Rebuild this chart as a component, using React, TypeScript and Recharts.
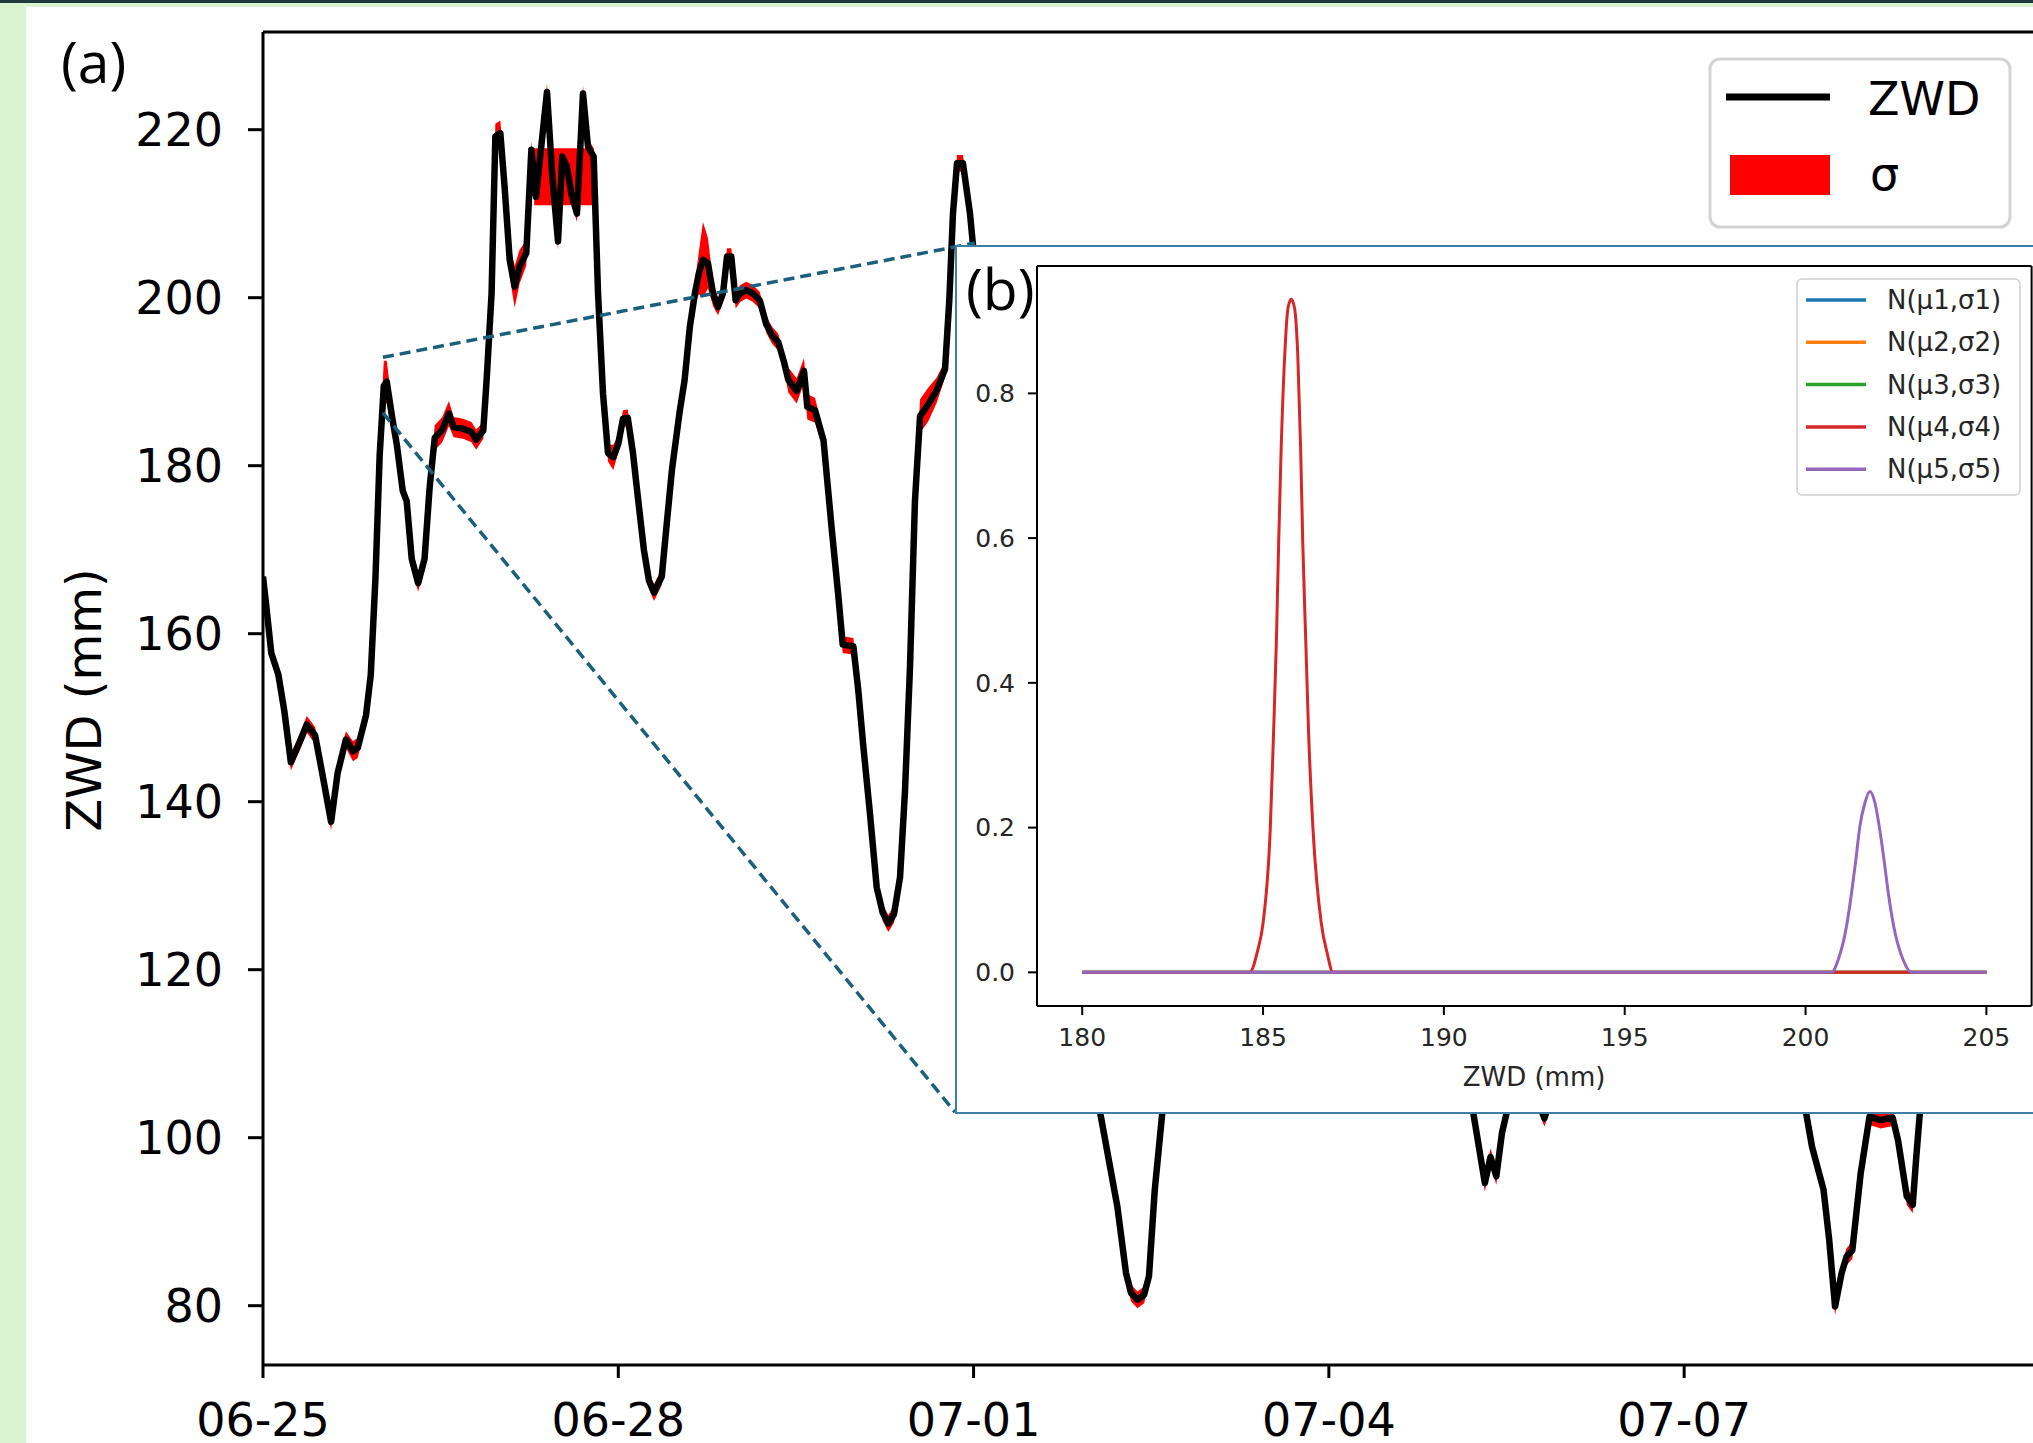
import React from 'react';
import {
  ComposedChart,
  LineChart,
  Line,
  Area,
  XAxis,
  YAxis,
  ReferenceLine,
} from 'recharts';

const FONT = "'DejaVu Sans', sans-serif";
const LABEL_FONT = "'Open Sans', 'Noto Sans', sans-serif";

// (a) ZWD series, x = days since 06-25 00:00
const zwdDays = [
  0.0, 0.03, 0.07, 0.13, 0.18, 0.235, 0.31, 0.37, 0.44, 0.5, 0.575, 0.63, 0.7, 0.76, 0.8, 0.87, 0.91, 0.95,
  0.985, 1.02, 1.045, 1.09, 1.13, 1.18, 1.213, 1.256, 1.31, 1.364, 1.407, 1.45, 1.514, 1.57, 1.61, 1.69,
  1.76, 1.8, 1.86, 1.89, 1.93, 1.962, 2.004, 2.04, 2.083, 2.125, 2.167, 2.223, 2.266, 2.305, 2.398, 2.443,
  2.491, 2.527, 2.567, 2.603, 2.651, 2.702, 2.744, 2.792, 2.829, 2.871, 2.913, 2.958, 3.0, 3.04, 3.08,
  3.124, 3.165, 3.216, 3.259, 3.302, 3.367, 3.41, 3.453, 3.518, 3.56, 3.604, 3.647, 3.68, 3.715, 3.757,
  3.8, 3.842, 3.884, 3.918, 3.954, 3.991, 4.03, 4.081, 4.137, 4.194, 4.25, 4.3, 4.351, 4.4, 4.436, 4.506,
  4.568, 4.596, 4.661, 4.733, 4.802, 4.858, 4.895, 4.985, 5.027, 5.069, 5.125, 5.182, 5.232, 5.28, 5.328,
  5.379, 5.421, 5.463, 5.505, 5.548, 5.618, 5.689, 5.759, 5.795, 5.826, 5.86, 5.91, 5.97, 6.01, 6.1, 6.3,
  6.5, 6.7, 6.9, 7.0, 7.07, 7.214, 7.287, 7.33, 7.384, 7.44, 7.481, 7.53, 7.593, 7.65, 7.8, 8.0, 8.3, 8.6,
  8.9, 9.2, 9.5, 9.8, 10.0, 10.15, 10.22, 10.317, 10.365, 10.414, 10.462, 10.5, 10.56, 10.66, 10.75, 10.82,
  10.9, 11.1, 11.4, 11.8, 12.2, 12.6, 12.9, 13.03, 13.08, 13.177, 13.225, 13.274, 13.33, 13.37, 13.42,
  13.49, 13.565, 13.66, 13.76, 13.806, 13.88, 13.93, 13.96, 13.99, 14.05, 14.3, 14.6, 15.0, 15.4, 15.6,
];
const zwdValues = [
  166.8, 163.0, 157.7, 155.1, 150.8, 144.7, 147.1, 149.2, 147.9, 143.4, 137.6, 143.4, 147.4, 146.0, 146.4,
  150.3, 155.1, 166.8, 181.2, 189.5, 190.0, 185.8, 182.5, 177.0, 175.8, 168.9, 166.0, 168.9, 177.4, 183.3,
  184.3, 186.2, 184.6, 184.4, 184.0, 183.1, 184.2, 190.6, 200.5, 219.2, 219.6, 213.2, 204.5, 201.3, 203.7,
  205.3, 217.6, 212.0, 224.5, 214.4, 206.7, 216.8, 215.6, 212.4, 210.0, 224.3, 218.0, 216.8, 200.5, 188.6,
  181.5, 181.0, 182.6, 185.6, 185.7, 181.5, 176.3, 170.0, 166.3, 164.9, 166.8, 173.2, 179.5, 186.4, 190.2,
  196.5, 200.5, 202.9, 204.5, 204.1, 200.5, 198.9, 200.5, 204.9, 204.9, 199.7, 200.5, 200.9, 200.5, 199.7,
  196.8, 195.5, 194.7, 192.3, 190.2, 188.9, 191.3, 187.0, 186.6, 183.0, 172.5, 164.5, 158.7, 158.5, 153.2,
  146.6, 138.6, 129.8, 126.8, 125.5, 126.6, 131.0, 141.3, 156.0, 175.8, 185.9, 187.3, 189.0, 191.5, 199.7,
  210.0, 216.0, 216.0, 210.0, 204.0, 196.0, 183.0, 172.0, 160.0, 135.0, 115.0, 102.9, 91.8, 83.9, 81.5,
  80.7, 81.3, 83.5, 93.8, 102.9, 118.0, 140.0, 160.0, 175.0, 170.0, 165.0, 158.0, 150.0, 135.0, 120.0,
  108.0, 102.9, 94.6, 97.7, 95.4, 100.6, 102.9, 106.0, 108.0, 105.0, 102.3, 106.0, 120.0, 140.0, 150.0,
  145.0, 130.0, 112.0, 102.9, 98.9, 93.8, 87.8, 79.9, 83.9, 85.8, 86.6, 95.7, 102.5, 102.1, 102.4, 99.7,
  93.0, 92.0, 97.7, 102.9, 112.0, 130.0, 140.0, 135.0, 130.0, 128.0,
];
const zwdSigma = [
  1.0, 1.0, 1.0, 1.0, 1.0, 1.0, 1.0, 1.0, 1.0, 1.0, 1.0, 1.0, 1.0, 1.2, 1.2, 1.0, 1.0, 1.0,
  1.5, 3.0, 2.5, 1.5, 1.0, 1.0, 1.0, 1.0, 1.0, 1.0, 1.0, 1.5, 1.5, 1.5, 1.2, 1.2,
  1.2, 1.2, 1.0, 1.0, 1.0, 1.5, 1.5, 1.5, 2.0, 2.5, 2.0, 1.5, 1.0, 1.0, 1.0, 1.0,
  1.0, 1.0, 1.0, 1.0, 1.0, 1.0, 1.0, 1.0, 1.0, 1.0, 1.0, 1.5, 1.0, 1.0, 1.0,
  1.0, 1.0, 1.0, 1.0, 1.0, 1.0, 1.0, 1.0, 1.0, 1.0, 1.0, 1.5, 2.5, 4.5, 3.0,
  1.5, 1.0, 1.0, 1.0, 1.0, 1.0, 1.0, 1.0, 1.0, 1.0, 1.0, 1.0, 1.0, 1.0, 1.5, 1.5,
  1.5, 1.5, 1.5, 1.0, 1.0, 1.0, 1.0, 1.0, 1.0, 1.0, 1.0, 1.0, 1.0, 1.0, 1.0,
  1.0, 1.0, 1.0, 1.0, 2.0, 2.0, 1.5, 1.0, 1.0, 1.0, 1.0, 1.0, 1.0, 1.0, 1.0, 1.0,
  1.0, 1.0, 1.0, 1.0, 1.0, 1.0, 1.0, 1.0, 1.0, 1.0, 1.0, 1.0, 1.0, 1.0, 1.0, 1.0, 1.0, 1.0,
  1.0, 1.0, 1.0, 1.0, 1.0, 1.0, 1.0, 1.0, 1.0, 1.0, 1.0, 1.0, 1.0, 1.0, 1.0, 1.0,
  1.0, 1.0, 1.0, 1.0, 1.0, 1.0, 1.0, 1.0, 1.0, 1.0, 1.0, 1.0, 1.0, 1.0, 1.0,
  1.0, 1.0, 1.0, 1.0, 1.0, 1.0, 1.0, 1.0, 1.0, 1.0, 1.0, 1.0, 1.0, 1.0, 1.0,
];
// wide sigma plateau on 06-27
const sigmaBlockDays = [2.29, 2.79];
const sigmaBlockRange = [211.0, 217.8];

const xTickDays = [0, 3, 6, 9, 12];
const xTickLabels = ['06-25', '06-28', '07-01', '07-04', '07-07'];
const yTicks = [80, 100, 120, 140, 160, 180, 200, 220];
const mainXDomain = [0, 15.6];
const mainYDomain = [72.94, 231.63];

// zoom connector ends (data coords of panel a)
const zoomFrom = [1.013, 192.9, 186.3];
const zoomTo = [[6.01, 206.5], [5.843, 103.05]];

// (b) mixture components
const componentNames = ['N(μ1,σ1)', 'N(μ2,σ2)', 'N(μ3,σ3)', 'N(μ4,σ4)', 'N(μ5,σ5)'];
const componentColors = ['#1f77b4', '#ff7f0e', '#2ca02c', '#d62728', '#9467bd'];
const n1X = [180, 205];
const n1Y = [0, 0];
const n2X = [180, 205];
const n2Y = [0, 0];
const n3X = [180, 205];
const n3Y = [0, 0];
const n4X = [
  180, 184.63, 184.85, 185.0, 185.2, 185.29, 185.37, 185.43, 185.5, 185.6, 185.69, 185.78, 185.87,
  185.96, 186.04, 186.1, 186.18, 186.26, 186.38, 186.61, 186.78, 186.93, 205,
];
const n4Y = [
  0, 0, 0.03, 0.068, 0.199, 0.33, 0.46, 0.59, 0.722, 0.853, 0.918, 0.93, 0.918, 0.853, 0.722, 0.59,
  0.46, 0.33, 0.199, 0.068, 0.025, 0, 0,
];
const n5X = [
  180, 200.72, 200.9, 201.13, 201.27, 201.39, 201.5, 201.64, 201.78, 201.92, 202.04, 202.17, 202.29,
  202.44, 202.7, 202.93, 205,
];
const n5Y = [
  0, 0, 0.017, 0.063, 0.109, 0.155, 0.201, 0.234, 0.25, 0.234, 0.201, 0.155, 0.109, 0.063, 0.017, 0, 0,
];
const insetXTicks = [180, 185, 190, 195, 200, 205];
const insetYTicks = [0, 0.2, 0.4, 0.6, 0.8];
const insetXDomain = [178.75, 206.25];
const insetYDomain = [-0.0465, 0.976];

const componentX = [n1X, n2X, n3X, n4X, n5X];
const componentY = [n1Y, n2Y, n3Y, n4Y, n5Y];

function Inset() {
  const lines = componentNames.map((name, k) => ({
    name,
    color: componentColors[k],
    points: componentX[k].map((x, i) => ({ x, y: componentY[k][i] })),
  }));
  const tick = { fontSize: 25, fill: '#262626', fontFamily: FONT };
  return (
    <div
      style={{
        position: 'absolute',
        left: 955,
        top: 245,
        width: 1100,
        height: 869,
        boxSizing: 'border-box',
        border: '2px solid #3f7fa6',
        background: '#fff',
      }}
    >
      <LineChart width={1096} height={865} margin={{ top: 19, right: 21.4, bottom: 0, left: 0 }}>
        <XAxis
          dataKey="x"
          type="number"
          domain={insetXDomain}
          ticks={insetXTicks}
          interval={0}
          allowDataOverflow
          height={106}
          tick={tick}
          tickSize={9}
          tickMargin={13}
          axisLine={{ stroke: '#000', strokeWidth: 2 }}
          tickLine={{ stroke: '#000', strokeWidth: 2 }}
        />
        <YAxis
          type="number"
          domain={insetYDomain}
          ticks={insetYTicks}
          interval={0}
          allowDataOverflow
          width={80}
          tick={tick}
          tickSize={9}
          tickMargin={13}
          tickFormatter={(v: number) => v.toFixed(1)}
          axisLine={{ stroke: '#000', strokeWidth: 2 }}
          tickLine={{ stroke: '#000', strokeWidth: 2 }}
        />
        <ReferenceLine y={insetYDomain[1]} stroke="#000" strokeWidth={2} />
        <ReferenceLine x={insetXDomain[1]} stroke="#000" strokeWidth={2} />
        {lines.map((l) => (
          <Line
            key={l.name}
            data={l.points}
            dataKey="y"
            type="monotone"
            stroke={l.color}
            strokeWidth={3}
            dot={false}
            activeDot={false}
            isAnimationActive={false}
          />
        ))}
      </LineChart>
      <svg
        width={1096}
        height={865}
        style={{ position: 'absolute', left: 0, top: 0, pointerEvents: 'none' }}
      >
        <text x={9} y={63} fontFamily={LABEL_FONT} fontSize={57} fill="#000">
          (b)
        </text>
        <text
          x={577}
          y={830}
          textAnchor="middle"
          dominantBaseline="central"
          fontFamily={FONT}
          fontSize={26}
          fill="#262626"
        >
          ZWD (mm)
        </text>
        <rect x={840} y={32} width={223} height={216} rx={5} fill="#fff" stroke="#d0d0d0" strokeWidth={1.5} />
        {lines.map((l, k) => (
          <g key={l.name}>
            <line x1={849} x2={909} y1={53 + k * 42.3} y2={53 + k * 42.3} stroke={l.color} strokeWidth={3.5} />
            <text
              x={930}
              y={53 + k * 42.3}
              dominantBaseline="central"
              fontFamily={FONT}
              fontSize={26}
              fill="#262626"
            >
              {l.name}
            </text>
          </g>
        ))}
      </svg>
    </div>
  );
}

export default function App() {
  const mainData = zwdDays.map((day, i) => ({
    day,
    zwd: zwdValues[i],
    band: [zwdValues[i] - zwdSigma[i], zwdValues[i] + zwdSigma[i]],
  }));
  const blockData = sigmaBlockDays.map((day) => ({ day, block: sigmaBlockRange }));
  const tick = { fontSize: 46, fill: '#000', fontFamily: FONT };

  return (
    <div
      style={{
        position: 'absolute',
        left: 0,
        top: 0,
        width: 2033,
        height: 1443,
        overflow: 'hidden',
        background: '#fff',
      }}
    >
      <div style={{ position: 'absolute', left: 0, top: 0 }}>
        <ComposedChart
          width={2120}
          height={1443}
          data={mainData}
          margin={{ top: 32, right: 9.5, bottom: 0, left: 0 }}
        >
          <XAxis
            dataKey="day"
            type="number"
            domain={mainXDomain}
            ticks={xTickDays}
            interval={0}
            allowDataOverflow
            height={78}
            tick={tick}
            tickSize={13}
            tickMargin={25}
            tickFormatter={(v: number) => xTickLabels[xTickDays.indexOf(v)]}
            axisLine={{ stroke: '#000', strokeWidth: 3 }}
            tickLine={{ stroke: '#000', strokeWidth: 3 }}
          />
          <YAxis
            type="number"
            domain={mainYDomain}
            ticks={yTicks}
            interval={0}
            allowDataOverflow
            width={263}
            tick={tick}
            tickSize={15}
            tickMargin={25}
            axisLine={{ stroke: '#000', strokeWidth: 3 }}
            tickLine={{ stroke: '#000', strokeWidth: 3 }}
          />
          <ReferenceLine y={mainYDomain[1]} stroke="#000" strokeWidth={3} />
          <Area
            dataKey="band"
            type="linear"
            stroke="none"
            fill="#ff0000"
            fillOpacity={1}
            isAnimationActive={false}
            activeDot={false}
          />
          <Area
            data={blockData}
            dataKey="block"
            type="linear"
            stroke="none"
            fill="#ff0000"
            fillOpacity={1}
            isAnimationActive={false}
            activeDot={false}
          />
          <Line
            dataKey="zwd"
            type="linear"
            stroke="#000"
            strokeWidth={6.5}
            strokeLinejoin="round"
            dot={false}
            activeDot={false}
            isAnimationActive={false}
          />
          {zoomTo.map((end, i) => (
            <ReferenceLine
              key={i}
              segment={[
                { x: zoomFrom[0], y: zoomFrom[1 + i] },
                { x: end[0], y: end[1] },
              ]}
              stroke="#1b5f7c"
              strokeWidth={3.5}
              strokeDasharray="11 6"
            />
          ))}
        </ComposedChart>
      </div>

      <svg
        width={2033}
        height={1443}
        style={{ position: 'absolute', left: 0, top: 0, pointerEvents: 'none' }}
      >
        <text x={61} y={83} fontFamily={LABEL_FONT} fontSize={57} fill="#000">
          (a)
        </text>
        <text
          transform="translate(84,700) rotate(-90)"
          textAnchor="middle"
          dominantBaseline="central"
          fontFamily={FONT}
          fontSize={48}
          fill="#000"
        >
          ZWD (mm)
        </text>
        <rect x={1710} y={59} width={300} height={168} rx={10} fill="#fff" stroke="#d3d3d3" strokeWidth={3} />
        <line x1={1726} x2={1830} y1={97} y2={97} stroke="#000" strokeWidth={7} />
        <text x={1868} y={115} fontFamily={FONT} fontSize={46} fill="#000">
          ZWD
        </text>
        <rect x={1730} y={155} width={100} height={40} fill="#ff0000" />
        <text x={1870} y={190} fontFamily={FONT} fontSize={46} fill="#000">
          σ
        </text>
      </svg>

      <Inset />

      <div style={{ position: 'absolute', left: 0, top: 0, width: 26, height: 1443, background: '#d9f2d0' }} />
      <div style={{ position: 'absolute', left: 0, top: 3, width: 2033, height: 4, background: '#d9f2d0' }} />
      <div style={{ position: 'absolute', left: 0, top: 0, width: 2033, height: 3, background: '#1e3a3f' }} />
    </div>
  );
}
